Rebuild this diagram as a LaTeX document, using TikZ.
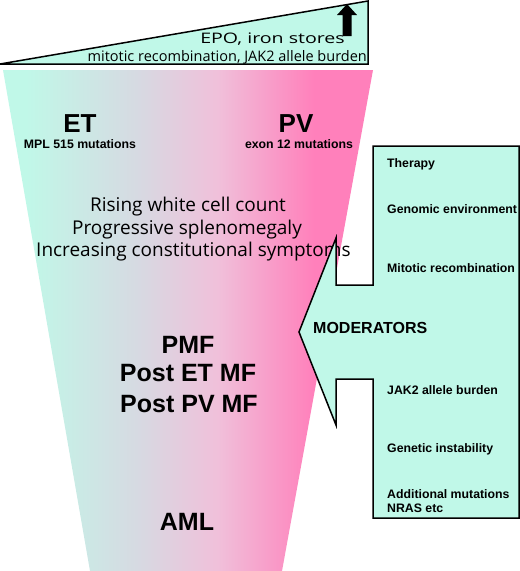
\documentclass[tikz,border=0pt]{standalone}
\usepackage{fontspec}
\usepackage{graphicx}
\setmainfont{Liberation Sans}
\newfontfamily\comicf{Open Sans}
\definecolor{aqua}{RGB}{192,248,232}
\definecolor{fgrey}{RGB}{214,218,226}
\definecolor{fpinklt}{RGB}{240,192,218}
\definecolor{fpink}{RGB}{255,128,187}
\pgfdeclarehorizontalshading{funnelshade}{100bp}{color(0bp)=(aqua); color(28bp)=(aqua); color(43bp)=(fgrey); color(54bp)=(fpinklt); color(67bp)=(fpink); color(100bp)=(fpink)}
\tikzset{
  outl/.style={draw=black, line width=1.5pt, line join=miter},
  comic/.style={font=\comicf\fontsize{19}{19}\selectfont, inner sep=0pt},
  small/.style={font=\comicf\fontsize{14.5}{14.5}\selectfont, inner sep=0pt},
  big/.style={font=\bfseries\fontsize{25}{25}\selectfont, inner sep=0pt},
  huge/.style={font=\bfseries\fontsize{26}{26}\selectfont, inner sep=0pt},
  sub/.style={font=\bfseries\fontsize{12.3}{12.3}\selectfont, inner sep=0pt},
  mod/.style={font=\bfseries\fontsize{12.3}{14.5}\selectfont, inner sep=0pt, anchor=west, align=left},
}
\begin{document}
\begin{tikzpicture}[x=1pt,y=-1pt]
\useasboundingbox (0,0) rectangle (520,571);
% funnel
\shade[shading=funnelshade] (3,70) -- (373,70) -- (282,571) -- (90,571) -- cycle;
% top wedge
\draw[outl, fill=aqua] (0,64) -- (368,1) -- (368,64) -- cycle;
\fill[black] (342.5,36) -- (342.5,15) -- (337,15) -- (347,4) -- (357,15) -- (351.5,15) -- (351.5,36) -- cycle;
\node[small, anchor=base east] (epo) at (345,43) {\scalebox{1.35}[1]{EPO, iron stores}};
\node[small, anchor=base east] (mito) at (367,61) {mitotic recombination, JAK2 allele burden};
% funnel texts
\node[huge] (et) at (80,124) {ET};
\node[sub] (mpl) at (80,144) {MPL 515 mutations};
\node[huge] (pv) at (296,124) {PV};
\node[sub] (exon) at (299,144) {exon 12 mutations};
\node[comic] (rise) at (188,207) {Rising white cell count};
\node[comic] (prog) at (187,230) {Progressive splenomegaly};
\node[comic, anchor=west] (incr) at (36,252) {Increasing constitutional symptoms};
\node[big] (pmf) at (188,345) {PMF};
\node[big] (pet) at (188,373) {Post ET MF};
\node[big] (ppv) at (189,404) {Post PV MF};
\node[big] (aml) at (187,522) {AML};
% moderators arrow
\draw[outl, fill=aqua] (373,146) -- (519,146) -- (519,518) -- (373,518) -- (373,379) -- (336,379) -- (336,425) -- (299,332) -- (336,238) -- (336,285) -- (373,285) -- cycle;
\node[mod] (ther) at (387,164) {Therapy};
\node[mod] (geno) at (387,209) {Genomic environment};
\node[mod] (mitr) at (387,268) {Mitotic recombination};
\node[font=\bfseries\fontsize{16}{16}\selectfont, inner sep=0pt, anchor=west] (mods) at (313,328) {MODERATORS};
\node[mod] (jak) at (387,390) {JAK2 allele burden};
\node[mod] (gen) at (387,449) {Genetic instability};
\node[mod] (add) at (387,501) {Additional mutations\\NRAS etc};
\end{tikzpicture}
\end{document}
